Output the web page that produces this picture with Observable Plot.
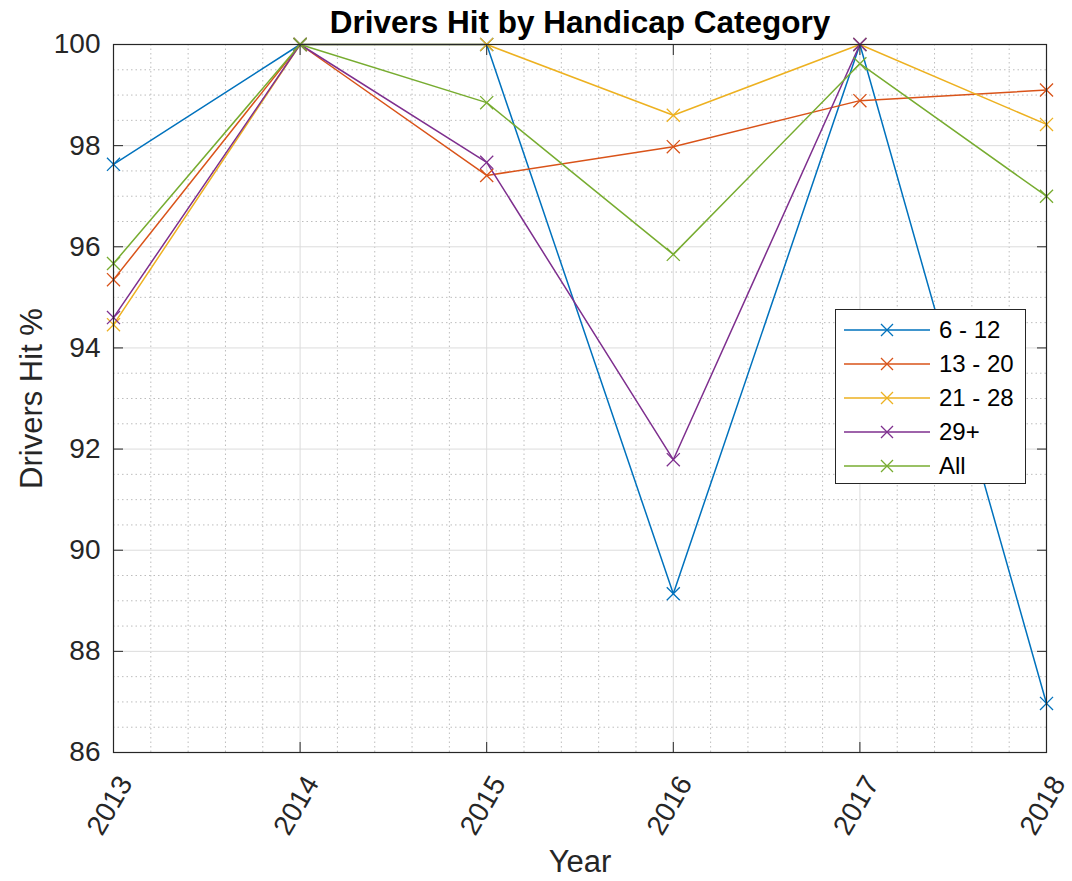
<!DOCTYPE html>
<html><head><meta charset="utf-8">
<script src="https://cdn.jsdelivr.net/npm/d3@7"></script>
<script src="https://cdn.jsdelivr.net/npm/@observablehq/plot@0.6"></script>
<style>
body{margin:0;background:#fff;}
#wrap{position:relative;width:1072px;height:881px;font-family:"Liberation Sans",Arial,sans-serif;}
#legend{position:absolute;left:835px;top:309px;width:189px;height:173px;border:1px solid #262626;background:#fff;box-sizing:content-box;}
.lrow{position:absolute;left:0;height:34px;display:flex;align-items:center;}
.lrow span{font-size:24px;color:#000;margin-left:0px;}
</style></head><body><div id="wrap"></div>
<script>
const years = [2013, 2014, 2015, 2016, 2017, 2018];
const seriesNames = ["6 - 12", "13 - 20", "21 - 28", "29+", "All"];
const hc6to12  = [97.63, 100, 100, 89.14, 100, 86.97];
const hc13to20 = [95.35, 100, 97.41, 97.98, 98.89, 99.10];
const hc21to28 = [94.46, 100, 100, 98.60, 100, 98.42];
const hc29plus = [94.60, 100, 97.67, 91.79, 100, null];
const hcAll    = [95.67, 100, 98.85, 95.85, 99.62, 97.00];
const colors = ["#0072BD", "#D95319", "#EDB120", "#7E2F8E", "#77AC30"];
const yTicks = [86, 88, 90, 92, 94, 96, 98, 100];
const xTicks = years;
const title = "Drivers Hit by Handicap Category";
const xLabel = "Year";
const yLabel = "Drivers Hit %";

const seriesValues = [hc6to12, hc13to20, hc21to28, hc29plus, hcAll];
const rows = [];
seriesNames.forEach((s, i) => years.forEach((yr, j) => rows.push({series: s, year: yr, value: seriesValues[i][j]})));
const pts = rows.filter(d => d.value != null);

const minorX = d3.range(0, 26).map(i => 2013 + i * 0.2).filter(v => Math.abs(v - Math.round(v)) > 1e-6);
const minorY = d3.range(0, 29).map(i => 86 + i * 0.5).filter(v => !yTicks.includes(v));

const FS = 28;
const chart = Plot.plot({
  width: 1072, height: 881,
  marginLeft: 113, marginRight: 26, marginTop: 44, marginBottom: 129,
  style: {fontFamily: '"Liberation Sans", Arial, sans-serif', background: "#fff"},
  x: {domain: [2013, 2018], label: null},
  y: {domain: [86, 100], label: null},
  color: {domain: seriesNames, range: colors},
  marks: [
    Plot.ruleX(minorX, {stroke: "#bdbdbd", strokeWidth: 1, strokeDasharray: "1.5,3"}),
    Plot.ruleY(minorY, {stroke: "#bdbdbd", strokeWidth: 1, strokeDasharray: "1.5,3"}),
    Plot.gridX(xTicks, {stroke: "#dcdcdc", strokeOpacity: 1}),
    Plot.gridY(yTicks, {stroke: "#dcdcdc", strokeOpacity: 1}),
    Plot.line(rows, {x: "year", y: "value", z: "series", stroke: "series", strokeWidth: 1.5}),
    Plot.dot(pts, {x: "year", y: "value", stroke: "series", symbol: "times", r: 6, strokeWidth: 1.3}),
    Plot.frame({stroke: "#262626", strokeWidth: 1.2}),
    Plot.axisY(yTicks, {anchor: "left", tickSize: 10, text: null, dx: 10, stroke: "#262626"}),
    Plot.axisY(yTicks, {anchor: "right", tickSize: 10, text: null, dx: -10, stroke: "#262626"}),
    Plot.axisX(xTicks, {anchor: "bottom", tickSize: 10, text: null, dy: -10, stroke: "#262626"}),
    Plot.axisX(xTicks, {anchor: "top", tickSize: 10, text: null, dy: 10, stroke: "#262626"}),
    Plot.axisY(yTicks, {anchor: "left", tickSize: 0, tickPadding: 13, fontSize: FS, fill: "#262626", label: null, tickFormat: d => String(d)}),
    Plot.axisX(xTicks, {anchor: "bottom", tickSize: 0, tickPadding: 0, rotate: -60, textAnchor: "end", lineAnchor: "middle", dx: 12, dy: 26, fontSize: FS, fill: "#262626", label: null, tickFormat: d => String(d)}),
    Plot.text([yLabel], {frameAnchor: "left", textAnchor: "middle", lineAnchor: "middle", dx: -81, rotate: -90, fontSize: 31, fill: "#262626"}),
    Plot.text([xLabel], {frameAnchor: "bottom", textAnchor: "middle", lineAnchor: "middle", dy: 110, fontSize: 31, fill: "#262626"}),
    Plot.text([title], {frameAnchor: "top", textAnchor: "middle", lineAnchor: "middle", dy: -22, fontSize: 31.5, fontWeight: "bold", fill: "#000"})
  ]
});
const wrap = document.getElementById("wrap");
wrap.appendChild(chart);

const legend = document.createElement("div");
legend.id = "legend";
seriesNames.forEach((s, i) => {
  const row = document.createElement("div");
  row.className = "lrow";
  row.style.top = (3 + i * 34) + "px";
  row.innerHTML = `<svg width="97" height="34" style="margin-left:6px"><line x1="2" x2="88" y1="17" y2="17" stroke="${colors[i]}" stroke-width="1.5"/><path d="M39,11L51,23M39,23L51,11" stroke="${colors[i]}" stroke-width="1.3"/></svg><span>${s}</span>`;
  legend.appendChild(row);
});
wrap.appendChild(legend);
</script></body></html>
